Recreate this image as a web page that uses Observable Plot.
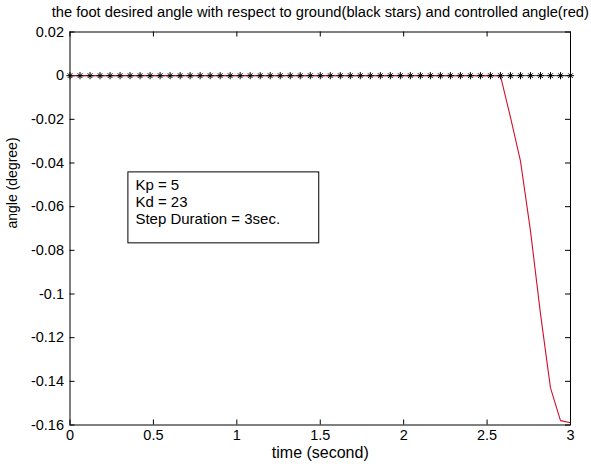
<!DOCTYPE html>
<html><head><meta charset="utf-8">
<script src="https://cdn.jsdelivr.net/npm/d3@7"></script>
<script src="https://cdn.jsdelivr.net/npm/@observablehq/plot@0.6"></script>
<style>
body{margin:0;background:#fff;}
#chart svg{display:block;}
</style>
</head><body><div id="chart"></div>
<script>
// ---- data ----
const timeDesired = [0,0.06,0.12,0.18,0.24,0.30,0.36,0.42,0.48,0.54,0.60,0.66,0.72,0.78,0.84,0.90,0.96,1.02,1.08,1.14,1.20,1.26,1.32,1.38,1.44,1.50,1.56,1.62,1.68,1.74,1.80,1.86,1.92,1.98,2.04,2.10,2.16,2.22,2.28,2.34,2.40,2.46,2.52,2.58,2.64,2.70,2.76,2.82,2.88,2.94,3.00];
const angleDesired = [0,0,0,0,0,0,0,0,0,0,0,0,0,0,0,0,0,0,0,0,0,0,0,0,0,0,0,0,0,0,0,0,0,0,0,0,0,0,0,0,0,0,0,0,0,0,0,0,0,0,0];
const timeControlled = [0,0.06,0.12,0.18,0.24,0.30,0.36,0.42,0.48,0.54,0.60,0.66,0.72,0.78,0.84,0.90,0.96,1.02,1.08,1.14,1.20,1.26,1.32,1.38,1.44,1.50,1.56,1.62,1.68,1.74,1.80,1.86,1.92,1.98,2.04,2.10,2.16,2.22,2.28,2.34,2.40,2.46,2.52,2.58,2.64,2.70,2.76,2.82,2.88,2.94,3.00];
const angleControlled = [0,0,0,0,0,0,0,0,0,0,0,0,0,0,0,0,0,0,0,0,0,0,0,0,0,0,0,0,0,0,0,0,0,0,0,0,0,0,0,0,0,0,0,0,-0.019,-0.039,-0.071,-0.109,-0.143,-0.158,-0.159];
const xTicks = [0,0.5,1,1.5,2,2.5,3];
const xTickLabels = ["0","0.5","1","1.5","2","2.5","3"];
const yTicks = [0.02,0,-0.02,-0.04,-0.06,-0.08,-0.1,-0.12,-0.14,-0.16];
const yTickLabels = ["0.02","0","-0.02","-0.04","-0.06","-0.08","-0.1","-0.12","-0.14","-0.16"];
const titleText = "the foot desired angle with respect to ground(black stars) and controlled angle(red)";
const xLabel = "time (second)";
const yLabel = "angle (degree)";
const noteLines = ["Kp = 5","Kd = 23","Step Duration = 3sec."];

// ---- build ----
const desired = timeDesired.map((t,i)=>({t, a: angleDesired[i]}));
const controlled = timeControlled.map((t,i)=>({t, a: angleControlled[i]}));
const xDom = [0,3], yDom = [-0.16,0.02];
const noteBox = {x1:0.35, x2:1.494, y1:-0.0443, y2:-0.0768, tx:0.392, ty:-0.0468};

const asterisk = {draw(ctx, size){
  const r = Math.sqrt(size/Math.PI), d = r*0.65;
  ctx.moveTo(-r,0); ctx.lineTo(r,0);
  ctx.moveTo(0,-r); ctx.lineTo(0,r);
  ctx.moveTo(-d,-d); ctx.lineTo(d,d);
  ctx.moveTo(-d,d); ctx.lineTo(d,-d);
}};

const FONT = "'Liberation Sans', Arial, Helvetica, sans-serif";
const chart = Plot.plot({
  width: 591, height: 467,
  marginLeft: 69.5, marginRight: 21, marginTop: 31.5, marginBottom: 42.5,
  style: {fontFamily: FONT, fontSize: "14px", background: "#fff", color: "#000", overflow: "hidden"},
  x: {domain: xDom},
  y: {domain: yDom},
  marks: [
    Plot.axisX({ticks: xTicks, tickFormat: (d,i)=>xTickLabels[i], tickSize: 0, tickPadding: 5, label: null, fontSize: 14.5}),
    Plot.axisY({ticks: yTicks, tickFormat: (d,i)=>yTickLabels[i], tickSize: 0, tickPadding: 6, label: null, fontSize: 14.5}),
    // inward ticks on all four sides
    Plot.ruleX(xTicks, {x: d=>d, y1: yDom[0], y2: yDom[0], insetBottom: 5, stroke: "#000"}),
    Plot.ruleX(xTicks, {x: d=>d, y1: yDom[1], y2: yDom[1], insetTop: 5, stroke: "#000"}),
    Plot.ruleY(yTicks, {y: d=>d, x1: xDom[0], x2: xDom[0], insetLeft: 5, stroke: "#000"}),
    Plot.ruleY(yTicks, {y: d=>d, x1: xDom[1], x2: xDom[1], insetRight: 5, stroke: "#000"}),
    Plot.line(desired, {x: "t", y: "a", stroke: "#333", strokeWidth: 1}),
    Plot.line(controlled, {x: "t", y: "a", stroke: "#d0102e", strokeWidth: 1.1}),
    Plot.dot(desired, {x: "t", y: "a", symbol: asterisk, r: 3.6, stroke: "#000", strokeWidth: 1, fill: "none"}),
    Plot.rect([noteBox], {x1: "x1", x2: "x2", y1: "y1", y2: "y2", fill: "#fff", stroke: "#000", strokeWidth: 1}),
    Plot.text([noteLines.join("\n")], {x: noteBox.tx, y: noteBox.ty, text: d=>d, textAnchor: "start", lineAnchor: "top", lineHeight: 1.133, fontSize: 15, fill: "#000"}),
    Plot.frame({stroke: "#000", strokeWidth: 1}),
    Plot.text([titleText], {frameAnchor: "top", dy: -19.5, text: d=>d, lineAnchor: "middle", fontSize: 14.7, fill: "#000"}),
    Plot.text([xLabel], {frameAnchor: "bottom", dy: 28, text: d=>d, lineAnchor: "middle", fontSize: 16, fill: "#000"}),
    Plot.text([yLabel], {frameAnchor: "left", dx: -57, rotate: -90, text: d=>d, lineAnchor: "middle", fontSize: 14, fill: "#000"})
  ]
});
document.getElementById("chart").appendChild(chart);
</script>
</body></html>
